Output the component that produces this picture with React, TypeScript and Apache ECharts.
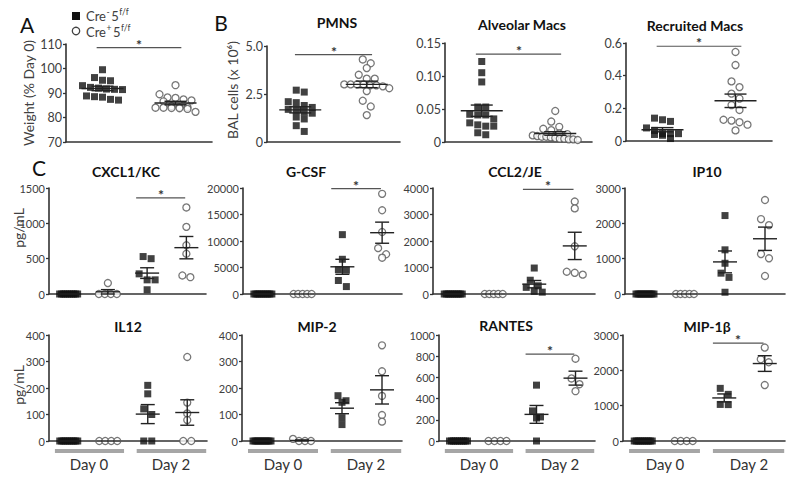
import React, { useEffect, useRef } from "react";
import * as echarts from "echarts";

// ---------------- data ----------------
const legendParts = [
  ["Cre", "-", "5", "f/f"],
  ["Cre", "+", "5", "f/f"],
];
const dayLabels = ["Day 0", "Day 2"];

const panelTitles = [
  "", "PMNS", "Alveolar Macs", "Recruited Macs",
  "CXCL1/KC", "G-CSF", "CCL2/JE", "IP10",
  "IL12", "MIP-2", "RANTES", "MIP-1β",
];

// A: weight (% day 0)
const weightCreNeg = [99.5, 96.3, 95.2, 95.0, 93.0, 92.3, 92.0, 91.6, 91.5, 91.4, 88.8, 88.5, 88.3, 87.4, 87.1];
const weightCrePos = [93.2, 89.5, 88.2, 88.0, 87.4, 87.0, 86.6, 84.6, 84.2, 84.2, 84.0, 84.0, 83.8, 83.9, 83.5, 82.3];
// B: BAL cells (x 10^6)
const pmnsCreNeg = [2.7, 2.6, 2.1, 2.05, 1.9, 1.8, 1.7, 1.65, 1.55, 1.5, 1.3, 1.2, 0.85, 0.55];
const pmnsCrePos = [4.3, 4.1, 3.85, 3.5, 3.3, 3.3, 3.0, 3.0, 3.0, 3.0, 2.95, 2.95, 2.9, 2.8, 2.65, 2.15, 1.85, 1.4];
const alvCreNeg = [0.122, 0.105, 0.091, 0.053, 0.053, 0.041, 0.041, 0.042, 0.035, 0.029, 0.024, 0.024, 0.026, 0.011, 0.014];
const alvCrePos = [0.047, 0.031, 0.023, 0.02, 0.018, 0.013, 0.012, 0.01, 0.009, 0.008, 0.008, 0.007, 0.006, 0.005, 0.005, 0.004, 0.004, 0.003];
const recCreNeg = [0.14, 0.13, 0.12, 0.08, 0.065, 0.045, 0.045, 0.045, 0.04, 0.035, 0.015];
const recCrePos = [0.545, 0.465, 0.365, 0.33, 0.29, 0.26, 0.22, 0.19, 0.125, 0.13, 0.115, 0.1, 0.065];
// C: cytokines (pg/mL) — order: Cre- day0, Cre+ day0, Cre- day2, Cre+ day2
const cxcl1Day0Neg = [0, 0, 0, 0, 0, 0, 0, 0, 0, 0];
const cxcl1Day0Pos = [0, 0, 155, 0, 0];
const cxcl1Day2Neg = [530, 500, 285, 200, 200, 60];
const cxcl1Day2Pos = [1225, 950, 690, 570, 262, 238];
const gcsfDay0Neg = [0, 0, 0, 0, 0, 0, 0, 0, 0, 0];
const gcsfDay0Pos = [0, 0, 0, 0, 0];
const gcsfDay2Neg = [11200, 6550, 4600, 4500, 2550, 1400];
const gcsfDay2Pos = [18900, 15800, 11700, 8650, 7500, 6850];
const ccl2Day0Neg = [0, 0, 0, 0, 0, 0, 0, 0, 0, 0];
const ccl2Day0Pos = [0, 0, 0, 0, 0];
const ccl2Day2Neg = [980, 520, 310, 250, 100, 70];
const ccl2Day2Pos = [3490, 3230, 1800, 840, 800, 730];
const ip10Day0Neg = [0, 0, 0, 0, 0, 0, 0, 0, 0, 0];
const ip10Day0Pos = [0, 0, 0, 0, 0];
const ip10Day2Neg = [2220, 1250, 870, 590, 470, 50];
const ip10Day2Pos = [2660, 2120, 1950, 1130, 1010, 510];
const il12Day0Neg = [0, 0, 0, 0, 0, 0, 0, 0, 0, 0];
const il12Day0Pos = [0, 0, 0, 0];
const il12Day2Neg = [210, 178, 121, 100, 0, 0];
const il12Day2Pos = [317, 145, 104, 79, 0, 0];
const mip2Day0Neg = [0, 0, 0, 0, 0, 0, 0, 0, 0, 0];
const mip2Day0Pos = [0, 0, 0, 8];
const mip2Day2Neg = [171, 152, 146, 88, 62];
const mip2Day2Pos = [361, 263, 170, 98, 73];
const rantesDay0Neg = [0, 0, 0, 0, 0, 0, 0, 0, 0, 0];
const rantesDay0Pos = [0, 0, 0, 0];
const rantesDay2Neg = [527, 284, 227, 217, 0];
const rantesDay2Pos = [776, 590, 536, 470];
const mip1bDay0Neg = [0, 0, 0, 0, 0, 0, 0, 0, 0, 0];
const mip1bDay0Pos = [0, 0, 0, 0];
const mip1bDay2Neg = [1490, 1320, 1035, 1030];
const mip1bDay2Pos = [2645, 2313, 2228, 1583];

// axis ranges: [min, max, interval, decimals]
const yRanges: number[][] = [
  [70, 110, 10, 0], [0, 5, 2.5, 1], [0, 0.15, 0.05, 2], [0, 0.6, 0.2, 1],
  [0, 1500, 500, 0], [0, 20000, 5000, 0], [0, 4000, 1000, 0], [0, 3000, 1000, 0],
  [0, 400, 100, 0], [0, 400, 100, 0], [0, 1000, 200, 0], [0, 3000, 1000, 0],
];
// significance bars (y level in data units); null = none
const sigLevels: (number | null)[] = [108.5, 4.55, 0.133, 0.58, 1360, 19900, 3950, null, null, null, 820, 2770];

const panelGroups: number[][][] = [
  [weightCreNeg, weightCrePos],
  [pmnsCreNeg, pmnsCrePos],
  [alvCreNeg, alvCrePos],
  [recCreNeg, recCrePos],
  [cxcl1Day0Neg, cxcl1Day0Pos, cxcl1Day2Neg, cxcl1Day2Pos],
  [gcsfDay0Neg, gcsfDay0Pos, gcsfDay2Neg, gcsfDay2Pos],
  [ccl2Day0Neg, ccl2Day0Pos, ccl2Day2Neg, ccl2Day2Pos],
  [ip10Day0Neg, ip10Day0Pos, ip10Day2Neg, ip10Day2Pos],
  [il12Day0Neg, il12Day0Pos, il12Day2Neg, il12Day2Pos],
  [mip2Day0Neg, mip2Day0Pos, mip2Day2Neg, mip2Day2Pos],
  [rantesDay0Neg, rantesDay0Pos, rantesDay2Neg, rantesDay2Pos],
  [mip1bDay0Neg, mip1bDay0Pos, mip1bDay2Neg, mip1bDay2Pos],
];

// ---------------- layout ----------------
const boxes = [
  [66, 44, 146, 98], [267, 46, 133, 96], [445, 43, 147, 99], [626, 43, 146, 98],
  [49, 188, 157, 106], [243, 188, 159, 106], [433, 188, 162, 106], [625, 188, 160, 106],
  [49, 335, 158, 106], [242, 335, 160, 106], [439, 335, 156, 106], [623, 335, 162, 106],
];
const titlePos = [
  [0, 0], [337, 22], [522, 24], [695, 25],
  [126, 171], [306, 171], [515, 171], [707, 171],
  [128, 326], [317, 326], [506, 325], [707, 326],
];

const FONT = "Lato, 'Open Sans', sans-serif";
const AXIS = "#333";

function meanSem(v: number[]) {
  const n = v.length;
  const m = v.reduce((a, b) => a + b, 0) / n;
  if (n < 2) return [m, 0];
  const sd = Math.sqrt(v.reduce((a, b) => a + (b - m) * (b - m), 0) / (n - 1));
  return [m, sd / Math.sqrt(n)];
}

function swarmOffsets(values: number[], pxPerY: number, maxW: number, size: number) {
  const idx = values.map((_, i) => i).sort((a, b) => values[b] - values[a]);
  const rows: number[][] = [];
  let start: number | null = null;
  for (const i of idx) {
    const v = values[i];
    if (start === null || (start - v) * pxPerY >= size * 0.9) {
      rows.push([i]);
      start = v;
    } else rows[rows.length - 1].push(i);
  }
  const off = new Array(values.length).fill(0);
  for (const r of rows) {
    const k = r.length;
    if (k < 2) continue;
    const step = Math.min(size + 1, (maxW - size) / (k - 1));
    r.forEach((i, j) => {
      off[i] = (j - (k - 1) / 2) * step;
    });
  }
  return off;
}

function measure(text: string, font: string) {
  const c = document.createElement("canvas").getContext("2d");
  if (!c) return text.length * 7;
  c.font = font;
  return c.measureText(text).width;
}

function txt(x: number, y: number, text: string, font: string, fill: string, align = "center", extra: any = {}) {
  return {
    type: "text", x, y, ...extra,
    style: { text, font, fill, textFill: fill, align, verticalAlign: "middle", textAlign: align, textVerticalAlign: "middle" },
  };
}

function buildOption() {
  const grid: any[] = [];
  const xAxis: any[] = [];
  const yAxis: any[] = [];
  const series: any[] = [];
  const graphic: any[] = [];

  panelGroups.forEach((groups, p) => {
    const [left, top, width, height] = boxes[p];
    const [yMin, yMax, yStep, dec] = yRanges[p];
    const isTop = p < 4;
    const n = groups.length;
    const pxPerX = width / n;
    const pxPerY = height / (yMax - yMin);
    const size = 7;
    const maxW = isTop ? 52 : 25;
    const meanHW = isTop ? 21 : 12;
    const capHW = isTop ? 11 : 7;

    grid.push({ left, top, width, height, containLabel: false });
    xAxis.push({
      type: "value", gridIndex: p, min: 0, max: n,
      axisLine: { show: true, onZero: false, lineStyle: { color: AXIS, width: 1.6 } },
      axisTick: { show: false }, axisLabel: { show: false }, splitLine: { show: false },
    });
    yAxis.push({
      type: "value", gridIndex: p, min: yMin, max: yMax, interval: yStep,
      axisLine: { show: true, lineStyle: { color: AXIS, width: 1.6 } },
      axisTick: { show: true, length: 3, lineStyle: { color: AXIS, width: 1.3 } },
      axisLabel: {
        fontSize: isTop ? 12.5 : 11, color: "#404040", fontFamily: FONT, margin: 4,
        formatter: (v: number) => (v === 0 ? "0" : v.toFixed(dec)),
      },
      splitLine: { show: false },
    });

    groups.forEach((vals, g) => {
      const off = swarmOffsets(vals, pxPerY, maxW, size);
      const neg = g % 2 === 0;
      series.push({
        type: "scatter", xAxisIndex: p, yAxisIndex: p, silent: true, z: 2,
        symbol: neg ? "rect" : "circle", symbolSize: size,
        itemStyle: neg
          ? { color: "#111" }
          : { color: "#fff", borderColor: "#555", borderWidth: 1.3 },
        data: vals.map((v, j) => [g + 0.5 + off[j] / pxPerX, v]),
      });
    });

    series.push({
      type: "custom", xAxisIndex: p, yAxisIndex: p, silent: true, z: 3,
      encode: { x: 0, y: 1 },
      data: groups.map((vals, g) => {
        const [m, s] = meanSem(vals);
        return [g + 0.5, m, s];
      }),
      renderItem: (_params: any, api: any) => {
        const x = api.value(0), m = api.value(1), s = api.value(2);
        const c = api.coord([x, m]);
        const st = { stroke: "#222", lineWidth: 1.4 };
        const ch: any[] = [
          { type: "line", shape: { x1: c[0] - meanHW, y1: c[1], x2: c[0] + meanHW, y2: c[1] }, style: st },
        ];
        if (s > 0) {
          const t = api.coord([x, m + s])[1];
          const b = api.coord([x, Math.max(m - s, yMin)])[1];
          ch.push({ type: "line", shape: { x1: c[0], y1: t, x2: c[0], y2: b }, style: st });
          ch.push({ type: "line", shape: { x1: c[0] - capHW, y1: t, x2: c[0] + capHW, y2: t }, style: st });
          ch.push({ type: "line", shape: { x1: c[0] - capHW, y1: b, x2: c[0] + capHW, y2: b }, style: st });
        }
        return { type: "group", children: ch };
      },
    });

    const sy = sigLevels[p];
    if (sy !== null) {
      const x0 = isTop ? 0.42 : 2.22;
      const x1 = isTop ? 1.58 : 3.47;
      series.push({
        type: "custom", xAxisIndex: p, yAxisIndex: p, silent: true, z: 3,
        encode: { x: [0, 1], y: 2 },
        itemStyle: { color: "#333" },
        data: [[x0, x1, sy]],
        renderItem: (_params: any, api: any) => {
          const a = api.coord([api.value(0), api.value(2)]);
          const b = api.coord([api.value(1), api.value(2)]);
          return {
            type: "group",
            children: [
              { type: "line", shape: { x1: a[0], y1: a[1], x2: b[0], y2: b[1] }, style: { stroke: "#555", lineWidth: 1.2 } },
              {
                type: "text", x: Math.round((a[0] + b[0]) / 2), y: Math.round(a[1] + 3),
                style: {
                  text: "*", textAlign: "center", textVerticalAlign: "bottom", align: "center", verticalAlign: "bottom",
                  font: `bold 14px ${FONT}`, fill: "#333", textFill: "#333",
                },
              },
            ],
          };
        },
      });
    }

    if (p >= 8) {
      series.push({
        type: "custom", xAxisIndex: p, yAxisIndex: p, silent: true, z: 3,
        encode: { x: [0, 1] },
        itemStyle: { color: "#333" },
        data: [[0.15, 1.9], [2.22, 3.98]],
        renderItem: (params: any, api: any) => {
          const a = api.coord([api.value(0), yMin]);
          const b = api.coord([api.value(1), yMin]);
          const y = a[1] + 10;
          return {
            type: "group",
            children: [
              { type: "line", shape: { x1: a[0], y1: y, x2: b[0], y2: y }, style: { stroke: "#a6a6a6", lineWidth: 4 } },
              {
                type: "text", x: Math.round((a[0] + b[0]) / 2), y: Math.round(y + 13),
                style: {
                  text: dayLabels[params.dataIndex], textAlign: "center", textVerticalAlign: "middle",
                  align: "center", verticalAlign: "middle", font: `15px ${FONT}`, fill: "#333", textFill: "#333",
                },
              },
            ],
          };
        },
      });
    }

    if (panelTitles[p]) {
      graphic.push(txt(titlePos[p][0], titlePos[p][1], panelTitles[p], `bold 14px ${FONT}`, "#111"));
    }
  });

  const letters: [string, number, number][] = [["A", 27, 24], ["B", 221, 22], ["C", 39, 167]];
  letters.forEach(([t, x, y]) => graphic.push(txt(x, y, t, `21px ${FONT}`, "#111")));
  const ynames: [string, number, number][] = [
    ["Weight (% Day 0)", 28, 93], ["BAL cells (x 10⁶)", 232, 90], ["pg/mL", 18, 228], ["pg/mL", 18, 385],
  ];
  ynames.forEach(([t, x, y]) => graphic.push(txt(x, y, t, `14px ${FONT}`, "#404040", "center", { rotation: Math.PI / 2 })));

  // legend
  graphic.push({ type: "rect", shape: { x: 72, y: 12, width: 8, height: 8 }, style: { fill: "#111" } });
  graphic.push({ type: "circle", shape: { cx: 76, cy: 31, r: 3.7 }, style: { fill: "#fff", stroke: "#444", lineWidth: 1.3 } });
  const mainFont = `13px ${FONT}`;
  const supFont = `8.5px ${FONT}`;
  legendParts.forEach((parts, i) => {
    const y = 16 + i * 16;
    let x = 86;
    parts.forEach((part, k) => {
      const sup = k % 2 === 1;
      const font = sup ? supFont : mainFont;
      graphic.push(txt(x, sup ? y - 4 : y, part, font, "#404040", "left"));
      x += measure(part, font) + (sup ? 1.5 : 0.5);
    });
  });

  return {
    animation: false,
    backgroundColor: "#fff",
    textStyle: { fontFamily: FONT },
    grid, xAxis, yAxis, series, graphic,
  };
}

export default function App() {
  const ref = useRef<HTMLDivElement>(null);
  useEffect(() => {
    document.body.style.margin = "0";
    if (!ref.current) return;
    const chart = echarts.init(ref.current, undefined, { renderer: "svg" });
    chart.setOption(buildOption() as any);
    return () => chart.dispose();
  }, []);
  return <div ref={ref} style={{ width: 800, height: 481 }} />;
}
